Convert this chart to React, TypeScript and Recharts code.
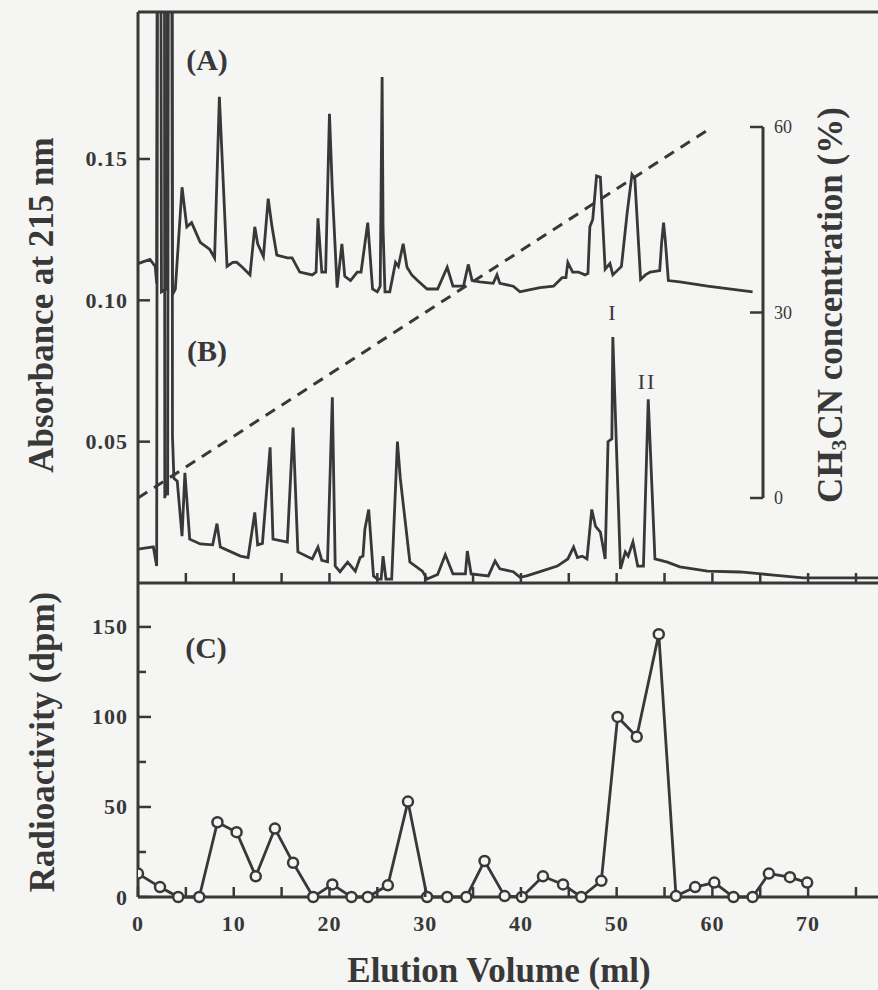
import React from 'react';
import { ComposedChart, LineChart, Line, XAxis, YAxis, ReferenceLine } from 'recharts';

const INK = '#383838';
const PAPER = '#f5f5f3';
const SERIF = '"Liberation Serif", "Times New Roman", serif';

// (A) absorbance trace, elution volume (ml) / A215
const traceAVolume = [
  0, 1.25, 1.8, 1.95, 2.05, 2.35, 2.45, 3.0, 3.1, 3.5, 3.6, 3.9, 4.6, 5.1, 5.6, 6.5, 7.5, 8.0, 8.5, 9.3,
  9.9, 10.3, 10.9, 11.7, 12.2, 12.5, 13.1, 13.6, 14.0, 14.5, 15.6, 16.1, 16.9, 18.2, 18.6, 18.8, 19.2, 19.6,
  20.0, 20.3, 20.8, 21.3, 21.6, 22.2, 22.9, 23.3, 24.0, 24.5, 25.0, 25.3, 25.5, 25.6, 25.8, 26.3, 26.9, 27.2,
  27.7, 28.1, 28.6, 29.2, 30.2, 31.3, 32.3, 32.9, 34.0, 34.5, 34.9, 35.7, 37.1, 37.5, 37.8, 39.2, 39.9, 40.6,
  42.0, 43.4, 44.3, 44.7, 44.9, 45.4, 46.0, 46.7, 47.0, 47.2, 47.5, 47.9, 48.3, 48.8, 49.3, 49.6, 50.5, 51.1,
  51.6, 51.9, 52.5, 53.0, 53.5, 54.5, 54.7, 54.9, 55.1, 55.4, 56.6, 59.5, 64.2,
];
const traceAAbs = [
  0.113, 0.1145, 0.112, 0.106, 0.3, 0.3, 0.103, 0.104, 0.3, 0.3, 0.102, 0.104, 0.14, 0.126, 0.1275, 0.1205,
  0.118, 0.115, 0.172, 0.112, 0.1134, 0.1135, 0.1117, 0.109, 0.126, 0.12, 0.1155, 0.136, 0.126, 0.116, 0.115,
  0.115, 0.11, 0.109, 0.11, 0.129, 0.11, 0.11, 0.166, 0.139, 0.1045, 0.12, 0.1085, 0.107, 0.11, 0.11, 0.1275,
  0.104, 0.103, 0.105, 0.179, 0.125, 0.103, 0.103, 0.1134, 0.112, 0.12, 0.1117, 0.109, 0.107, 0.104, 0.104,
  0.1117, 0.105, 0.105, 0.1127, 0.107, 0.1065, 0.106, 0.109, 0.106, 0.105, 0.103, 0.1035, 0.1045, 0.105,
  0.108, 0.108, 0.1134, 0.11, 0.11, 0.109, 0.1095, 0.126, 0.1286, 0.144, 0.1435, 0.111, 0.113, 0.109, 0.112,
  0.131, 0.1445, 0.143, 0.1074, 0.109, 0.11, 0.1105, 0.1205, 0.1275, 0.1205, 0.107, 0.1065, 0.105, 0.103,
];

// (B) absorbance trace
const traceBVolume = [
  0, 1.6, 1.95, 2.05, 2.75, 2.8, 3.0, 3.1, 3.2, 3.55, 3.6, 3.75, 4.1, 4.6, 4.9, 5.4, 6.5, 7.8, 8.25, 8.6,
  10.7, 11.5, 12.2, 12.5, 13.0, 13.8, 14.1, 15.6, 16.2, 16.7, 18.2, 18.8, 19.2, 19.8, 20.3, 20.6, 21.1, 21.9,
  22.7, 23.2, 23.5, 23.7, 24.1, 24.6, 25.0, 25.4, 25.6, 25.9, 26.5, 27.1, 27.4, 28.4, 29.7, 30.2, 31.3, 32.1,
  32.9, 34.2, 34.4, 34.8, 36.6, 37.3, 37.8, 39.2, 39.9, 40.6, 42.0, 43.8, 44.9, 45.5, 45.9, 46.4, 46.9, 47.4,
  47.8, 48.3, 48.8, 49.1, 49.5, 49.6, 50.4, 50.9, 51.2, 51.7, 52.2, 52.8, 53.3, 54.0, 55.3, 56.6, 59.5, 62.9,
  66.4, 69.5, 77.3,
];
const traceBAbs = [
  0.012, 0.0128, 0.006, 0.3, 0.3, 0.03, 0.036, 0.031, 0.3, 0.3, 0.052, 0.037, 0.036, 0.0166, 0.039, 0.0155,
  0.0138, 0.0135, 0.021, 0.0127, 0.0095, 0.009, 0.025, 0.0135, 0.014, 0.048, 0.0155, 0.0145, 0.055, 0.011,
  0.0085, 0.0127, 0.008, 0.0075, 0.0657, 0.006, 0.004, 0.0074, 0.0042, 0.009, 0.0095, 0.019, 0.026, 0.0025,
  0.0014, 0.0014, 0.0095, 0.0014, 0.0014, 0.05, 0.037, 0.0074, 0.0042, 0.0014, 0.003, 0.01, 0.0032, 0.0032,
  0.0113, 0.0032, 0.0025, 0.0078, 0.005, 0.004, 0.002, 0.0025, 0.004, 0.006, 0.0085, 0.0127, 0.009, 0.0095,
  0.0085, 0.026, 0.02, 0.018, 0.0085, 0.05, 0.051, 0.087, 0.005, 0.011, 0.0095, 0.0145, 0.006, 0.006, 0.065,
  0.0085, 0.0074, 0.0057, 0.0042, 0.0039, 0.0028, 0.0018, 0.0018,
];

// (C) radioactivity of fractions
const fractionVolume = [
  0, 2.3, 4.2, 6.4, 8.3, 10.3, 12.3, 14.3, 16.2, 18.3, 20.3, 22.3, 24.0, 26.1, 28.2, 30.2, 32.3, 34.3,
  36.2, 38.3, 40.1, 42.3, 44.4, 46.3, 48.4, 50.1, 52.1, 54.4, 56.2, 58.2, 60.2, 62.2, 64.2, 65.9, 68.1, 69.9,
];
const fractionDpm = [
  13, 5.5, 0, 0, 41.5, 36, 11.5, 38, 19, 0, 7, 0, 0, 6.5, 53, 0, 0, 0,
  20, 0.5, 0, 11.5, 7, 0, 9, 100, 89, 146, 0.5, 5.5, 8, 0, 0, 13, 11, 8,
];

// CH3CN gradient (dashed)
const gradientVolume = [0, 60];
const gradientPct = [0, 60];

const VOL_MAX = 77.3;
const ABS_MAX = 0.202;
const DPM_MAX = 174.4;

const topVolumeTicks = [5, 10, 15, 20, 25, 30, 35, 40, 45, 50, 55, 60, 65, 70, 75];
const bottomVolumeTicks = [0, 5, 10, 15, 20, 25, 30, 35, 40, 45, 50, 55, 60, 65, 70, 75];
const absTicks = [0.05, 0.1, 0.15];
const dpmTicks = [0, 25, 50, 75, 100, 125, 150];
const pctTicks = [0, 30, 60];

const toPoints = (xs: number[], ys: number[]) => xs.map((x, i) => ({ x, y: ys[i] }));
const traceA = toPoints(traceAVolume, traceAAbs);
const traceB = toPoints(traceBVolume, traceBAbs);
const fractions = toPoints(fractionVolume, fractionDpm);
const gradient = toPoints(gradientVolume, gradientPct);

const tickFont = { fontFamily: SERIF, fontWeight: 700, fontSize: 22, fill: INK, letterSpacing: 1 };

function VolumeTick({ x, y, payload, labelled }: any) {
  const v = payload.value;
  return (
    <g>
      <line x1={x} y1={y} x2={x} y2={y - 10} stroke={INK} strokeWidth={2.5} />
      {labelled && v % 10 === 0 && (
        <text x={x} y={y + 34} textAnchor="middle" {...tickFont}>
          {v}
        </text>
      )}
    </g>
  );
}

function AbsTick({ x, y, payload }: any) {
  return (
    <g>
      <line x1={x} y1={y} x2={x + 12} y2={y} stroke={INK} strokeWidth={2.5} />
      <text x={x - 10} y={y + 7.5} textAnchor="end" {...tickFont}>
        {payload.value.toFixed(2)}
      </text>
    </g>
  );
}

function DpmTick({ x, y, payload }: any) {
  const major = payload.value % 50 === 0;
  return (
    <g>
      <line x1={x} y1={y} x2={x + (major ? 13 : 8)} y2={y} stroke={INK} strokeWidth={2.5} />
      {major && (
        <text x={x - 10} y={y + 7.5} textAnchor="end" {...tickFont}>
          {payload.value}
        </text>
      )}
    </g>
  );
}

function PctTick({ x, y, payload }: any) {
  return (
    <g>
      <line x1={x - 13} y1={y} x2={x} y2={y} stroke={INK} strokeWidth={2.5} />
      <text x={x + 11} y={y + 6} textAnchor="start" fontFamily={SERIF} fontSize={18} fill={INK}>
        {payload.value}
      </text>
    </g>
  );
}

const txt = (left: number, top: number, size: number, bold: boolean, rotate = 0): React.CSSProperties => ({
  position: 'absolute',
  left,
  top,
  transform: `translate(-50%, -50%) rotate(${rotate}deg)`,
  fontFamily: SERIF,
  fontWeight: bold ? 700 : 400,
  fontSize: size,
  lineHeight: 1,
  color: INK,
  whiteSpace: 'nowrap',
});

export default function App() {
  return (
    <div style={{ position: 'fixed', left: 0, top: 0, width: 878, height: 990, background: PAPER, overflow: 'hidden' }}>
      {/* (A) and (B) absorbance */}
      <div style={{ position: 'absolute', left: 0, top: 0 }}>
        <ComposedChart width={878} height={593} margin={{ top: 12, right: 0, bottom: 0, left: 0 }}>
          <XAxis
            dataKey="x"
            type="number"
            domain={[0, VOL_MAX]}
            allowDataOverflow
            ticks={topVolumeTicks}
            interval={0}
            height={10}
            tickSize={0}
            tickMargin={0}
            tickLine={false}
            axisLine={{ stroke: INK, strokeWidth: 3 }}
            tick={(p: any) => <VolumeTick {...p} />}
          />
          <YAxis
            type="number"
            domain={[0, ABS_MAX]}
            allowDataOverflow
            ticks={absTicks}
            interval={0}
            width={138}
            tickSize={0}
            tickMargin={0}
            tickLine={false}
            axisLine={{ stroke: INK, strokeWidth: 3 }}
            tick={(p: any) => <AbsTick {...p} />}
          />
          <ReferenceLine y={ABS_MAX} stroke={INK} strokeWidth={3} />
          <Line data={traceA} dataKey="y" type="linear" dot={false} stroke={INK} strokeWidth={2.8} isAnimationActive={false} />
          <Line data={traceB} dataKey="y" type="linear" dot={false} stroke={INK} strokeWidth={2.8} isAnimationActive={false} />
        </ComposedChart>
      </div>

      {/* CH3CN gradient with its own scale */}
      <div style={{ position: 'absolute', left: 0, top: 0 }}>
        <LineChart width={823} height={518} margin={{ top: 127, right: 0, bottom: 20, left: 138 }}>
          <XAxis dataKey="x" type="number" domain={[0, 65.3]} hide />
          <YAxis
            orientation="right"
            type="number"
            domain={[0, 60]}
            ticks={pctTicks}
            interval={0}
            width={60}
            tickSize={0}
            tickMargin={0}
            tickLine={false}
            axisLine={{ stroke: INK, strokeWidth: 3 }}
            tick={(p: any) => <PctTick {...p} />}
          />
          <Line
            data={gradient}
            dataKey="y"
            type="linear"
            dot={false}
            stroke={INK}
            strokeWidth={3}
            strokeDasharray="11 8"
            isAnimationActive={false}
          />
        </LineChart>
      </div>

      {/* (C) radioactivity */}
      <div style={{ position: 'absolute', left: 0, top: 583 }}>
        <LineChart data={fractions} width={878} height={359} margin={{ top: 0, right: 0, bottom: 0, left: 0 }}>
          <XAxis
            dataKey="x"
            type="number"
            domain={[0, VOL_MAX]}
            allowDataOverflow
            ticks={bottomVolumeTicks}
            interval={0}
            height={45}
            tickSize={0}
            tickMargin={0}
            tickLine={false}
            axisLine={{ stroke: INK, strokeWidth: 3 }}
            tick={(p: any) => <VolumeTick {...p} labelled />}
          />
          <YAxis
            type="number"
            domain={[0, DPM_MAX]}
            ticks={dpmTicks}
            interval={0}
            width={138}
            tickSize={0}
            tickMargin={0}
            tickLine={false}
            axisLine={{ stroke: INK, strokeWidth: 3 }}
            tick={(p: any) => <DpmTick {...p} />}
          />
          <Line
            dataKey="y"
            type="linear"
            stroke={INK}
            strokeWidth={2.8}
            dot={{ r: 5, stroke: INK, strokeWidth: 2.5, fill: PAPER }}
            isAnimationActive={false}
          />
        </LineChart>
      </div>

      <div style={txt(207, 60, 30, true)}>(A)</div>
      <div style={txt(207, 351, 30, true)}>(B)</div>
      <div style={txt(206, 648, 30, true)}>(C)</div>
      <div style={txt(612, 313, 22, false)}>I</div>
      <div style={{ ...txt(647, 382, 22, false), letterSpacing: 2 }}>II</div>

      <div style={txt(41, 305, 35, true, -90)}>Absorbance at 215 nm</div>
      <div style={txt(42, 742, 35, true, -90)}>Radioactivity (dpm)</div>
      <div style={txt(832, 305, 35, true, -90)}>
        CH<span style={{ fontSize: '0.62em', verticalAlign: '-0.2em' }}>3</span>CN concentration (%)
      </div>
      <div style={txt(499, 970, 35, true)}>Elution Volume (ml)</div>
    </div>
  );
}
